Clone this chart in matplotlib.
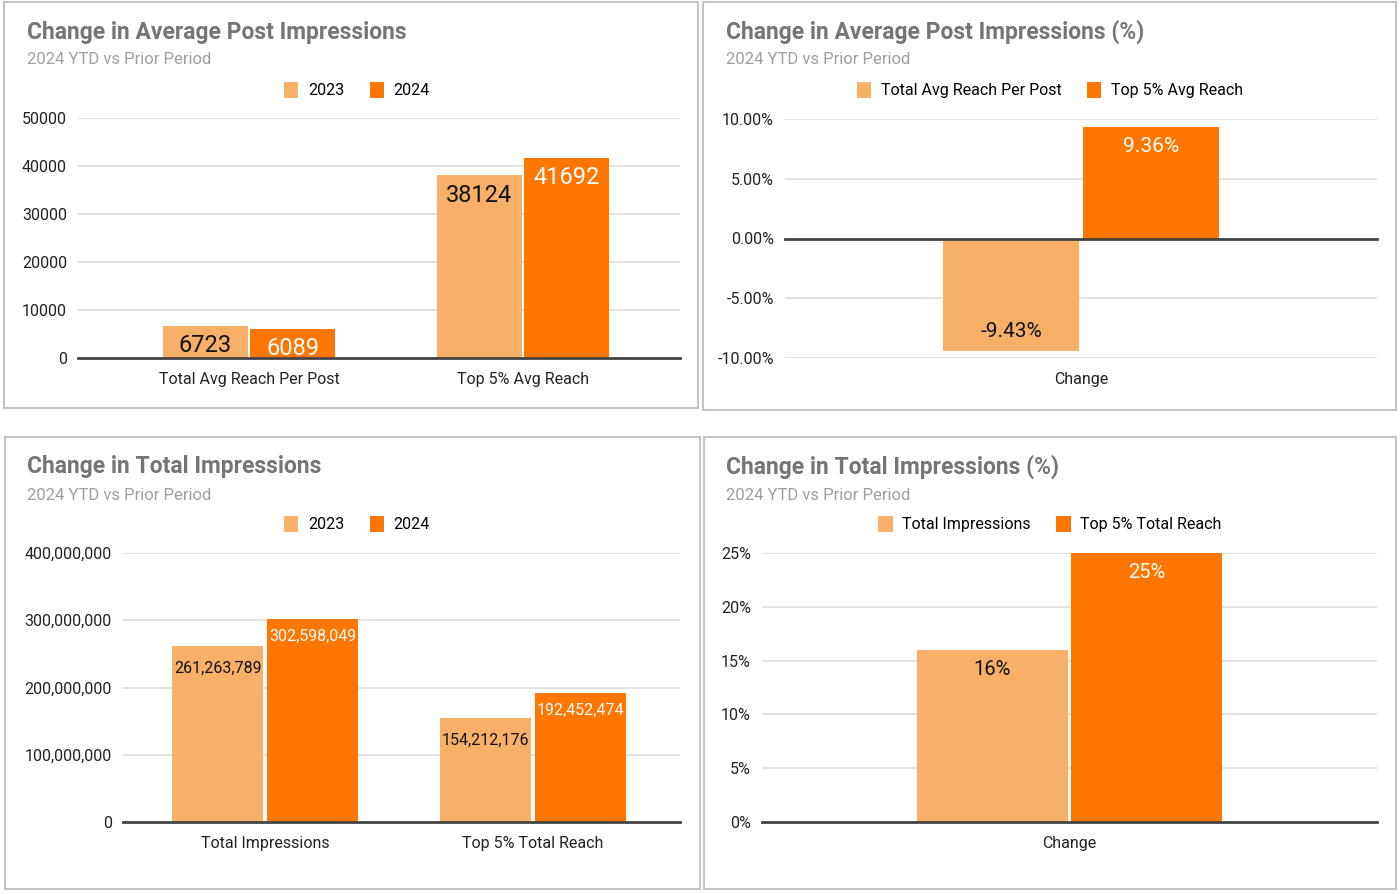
import matplotlib
matplotlib.use('Agg')
import matplotlib.pyplot as plt
import matplotlib.ticker as ticker
from matplotlib.patches import Rectangle, Patch

plt.rcParams.update({
    "font.family": ["Roboto", "DejaVu Sans"],
    "font.size": 11,
    "axes.unicode_minus": False,
})

C_23 = '#F8B068'
C_24 = '#FF7700'
C_TITLE = '#757575'
C_SUB = '#9E9E9E'
C_GRID = '#DDDDDD'
C_BASE = '#444444'
C_BORDER = '#C4C4C4'

W, H = 1400, 894

# ===== Data =====
avg_cats = ['Total Avg Reach Per Post', 'Top 5% Avg Reach']
avg_2023 = [6723, 38124]
avg_2024 = [6089, 41692]

avg_pct_series = ['Total Avg Reach Per Post', 'Top 5% Avg Reach']
avg_pct_vals = [-9.43, 9.36]

tot_cats = ['Total Impressions', 'Top 5% Total Reach']
tot_2023 = [261263789, 154212176]
tot_2024 = [302598049, 192452474]

tot_pct_series = ['Total Impressions', 'Top 5% Total Reach']
tot_pct_vals = [16, 25]

year_labels = ['2023', '2024']
subtitle = '2024 YTD vs Prior Period'


def rect(x0, y0, x1, y1):
    return [x0 / W, 1 - y1 / H, (x1 - x0) / W, (y1 - y0) / H]


fig = plt.figure(figsize=(W / 100, H / 100), dpi=100)
fig.patch.set_facecolor('white')

# panel cards (behind the axes)
for (x0, y0, x1, y1) in [(4, 2, 698, 408), (703, 2, 1396, 410),
                         (5, 437, 700, 889), (704, 437, 1396, 889)]:
    fig.patches.append(Rectangle((x0 / W, 1 - y1 / H), (x1 - x0) / W, (y1 - y0) / H,
                                 transform=fig.transFigure, facecolor='white',
                                 edgecolor=C_BORDER, linewidth=1.5, zorder=-10))


def header(x, y, title):
    fig.text(x / W, 1 - y / H, title, fontsize=16.5, fontweight='bold',
             color=C_TITLE, va='center', ha='left')
    fig.text(x / W, 1 - (y + 28) / H, subtitle, fontsize=12,
             color=C_SUB, va='center', ha='left')


def style_axes(ax):
    for s in ax.spines.values():
        s.set_visible(False)
    ax.set_facecolor('none')
    ax.yaxis.grid(True, color=C_GRID, linewidth=1.2)
    ax.set_axisbelow(True)
    ax.tick_params(length=0, labelsize=11.5, colors='#222222', pad=8)
    ax.tick_params(axis='x', pad=10)
    ax.axhline(0, color=C_BASE, linewidth=2.0, zorder=3, clip_on=False)


def legend(ax, labels, cx, cy):
    handles = [Patch(facecolor=C_23, edgecolor='none'),
               Patch(facecolor=C_24, edgecolor='none')]
    ax.legend(handles, labels, loc='center', bbox_to_anchor=(cx / W, 1 - cy / H),
              bbox_transform=fig.transFigure, ncol=2, frameon=False,
              handlelength=0.9, handleheight=1.2, handletextpad=0.6,
              columnspacing=1.6, fontsize=11.5)


def label(ax, x, v, text, color, size, off=20):
    dy = -off if v >= 0 else off
    ax.annotate(text, xy=(x, v), xytext=(0, dy), textcoords='offset pixels',
                ha='center', va='center', fontsize=size, color=color, zorder=4)


# ===== Top left =====
header(27, 32, 'Change in Average Post Impressions')
ax = fig.add_axes(rect(78, 118, 680, 358))
style_axes(ax)
bw, gap = 0.31, 0.008
xs = [0, 1]
ax.bar([x - bw / 2 - gap / 2 for x in xs], avg_2023, width=bw, color=C_23, zorder=2)
ax.bar([x + bw / 2 + gap / 2 for x in xs], avg_2024, width=bw, color=C_24, zorder=2)
for x, a, b in zip(xs, avg_2023, avg_2024):
    label(ax, x - bw / 2 - gap / 2, a, str(a), '#111111', 17)
    label(ax, x + bw / 2 + gap / 2, b, str(b), 'white', 17)
ax.set_ylim(0, 50000)
ax.set_yticks(range(0, 50001, 10000))
ax.set_xlim(-0.624, 1.573)
ax.set_xticks(xs)
ax.set_xticklabels(avg_cats)
legend(ax, year_labels, 357, 90)

# ===== Top right =====
header(726, 32, 'Change in Average Post Impressions (%)')
ax = fig.add_axes(rect(785, 119, 1377, 358))
style_axes(ax)
bw, gap = 0.23, 0.006
px = [-bw / 2 - gap / 2, bw / 2 + gap / 2]
ax.bar(px[0], avg_pct_vals[0], width=bw, color=C_23, zorder=2)
ax.bar(px[1], avg_pct_vals[1], width=bw, color=C_24, zorder=2)
label(ax, px[0], avg_pct_vals[0], f'{avg_pct_vals[0]:.2f}%', '#111111', 15)
label(ax, px[1], avg_pct_vals[1], f'{avg_pct_vals[1]:.2f}%', 'white', 15)
ax.set_ylim(-10, 10)
ax.set_yticks([-10, -5, 0, 5, 10])
ax.yaxis.set_major_formatter(ticker.FuncFormatter(lambda v, p: f'{v:.2f}%'))
ax.set_xlim(-0.5, 0.5)
ax.set_xticks([0])
ax.set_xticklabels(['Change'])
legend(ax, avg_pct_series, 1050, 90)

# ===== Bottom left =====
header(27, 467, 'Change in Total Impressions')
ax = fig.add_axes(rect(123, 553, 680, 822))
style_axes(ax)
bw, gap = 0.34, 0.014
ax.bar([x - bw / 2 - gap / 2 for x in xs], tot_2023, width=bw, color=C_23, zorder=2)
ax.bar([x + bw / 2 + gap / 2 for x in xs], tot_2024, width=bw, color=C_24, zorder=2)
for x, a, b in zip(xs, tot_2023, tot_2024):
    label(ax, x - bw / 2 - gap / 2, a, f'{a:,}', '#111111', 11.5, 22)
    label(ax, x + bw / 2 + gap / 2, b, f'{b:,}', 'white', 11.5, 18)
ax.set_ylim(0, 4e8)
ax.set_yticks([0, 1e8, 2e8, 3e8, 4e8])
ax.yaxis.set_major_formatter(ticker.FuncFormatter(lambda v, p: f'{int(v):,}'))
ax.set_xlim(-0.53, 1.55)
ax.set_xticks(xs)
ax.set_xticklabels(tot_cats)
legend(ax, year_labels, 357, 524)

# ===== Bottom right =====
header(726, 467, 'Change in Total Impressions (%)')
ax = fig.add_axes(rect(762, 553, 1377, 822))
style_axes(ax)
bw, gap = 0.245, 0.006
px = [-bw / 2 - gap / 2, bw / 2 + gap / 2]
ax.bar(px[0], tot_pct_vals[0], width=bw, color=C_23, zorder=2)
ax.bar(px[1], tot_pct_vals[1], width=bw, color=C_24, zorder=2)
label(ax, px[0], tot_pct_vals[0], f'{tot_pct_vals[0]}%', '#111111', 14.5)
label(ax, px[1], tot_pct_vals[1], f'{tot_pct_vals[1]}%', 'white', 14.5)
ax.set_ylim(0, 25)
ax.set_yticks(range(0, 26, 5))
ax.yaxis.set_major_formatter(ticker.FuncFormatter(lambda v, p: f'{int(v)}%'))
ax.set_xlim(-0.5, 0.5)
ax.set_xticks([0])
ax.set_xticklabels(['Change'])
legend(ax, tot_pct_series, 1050, 524)

fig.savefig('out.png', dpi=100, facecolor='white')
